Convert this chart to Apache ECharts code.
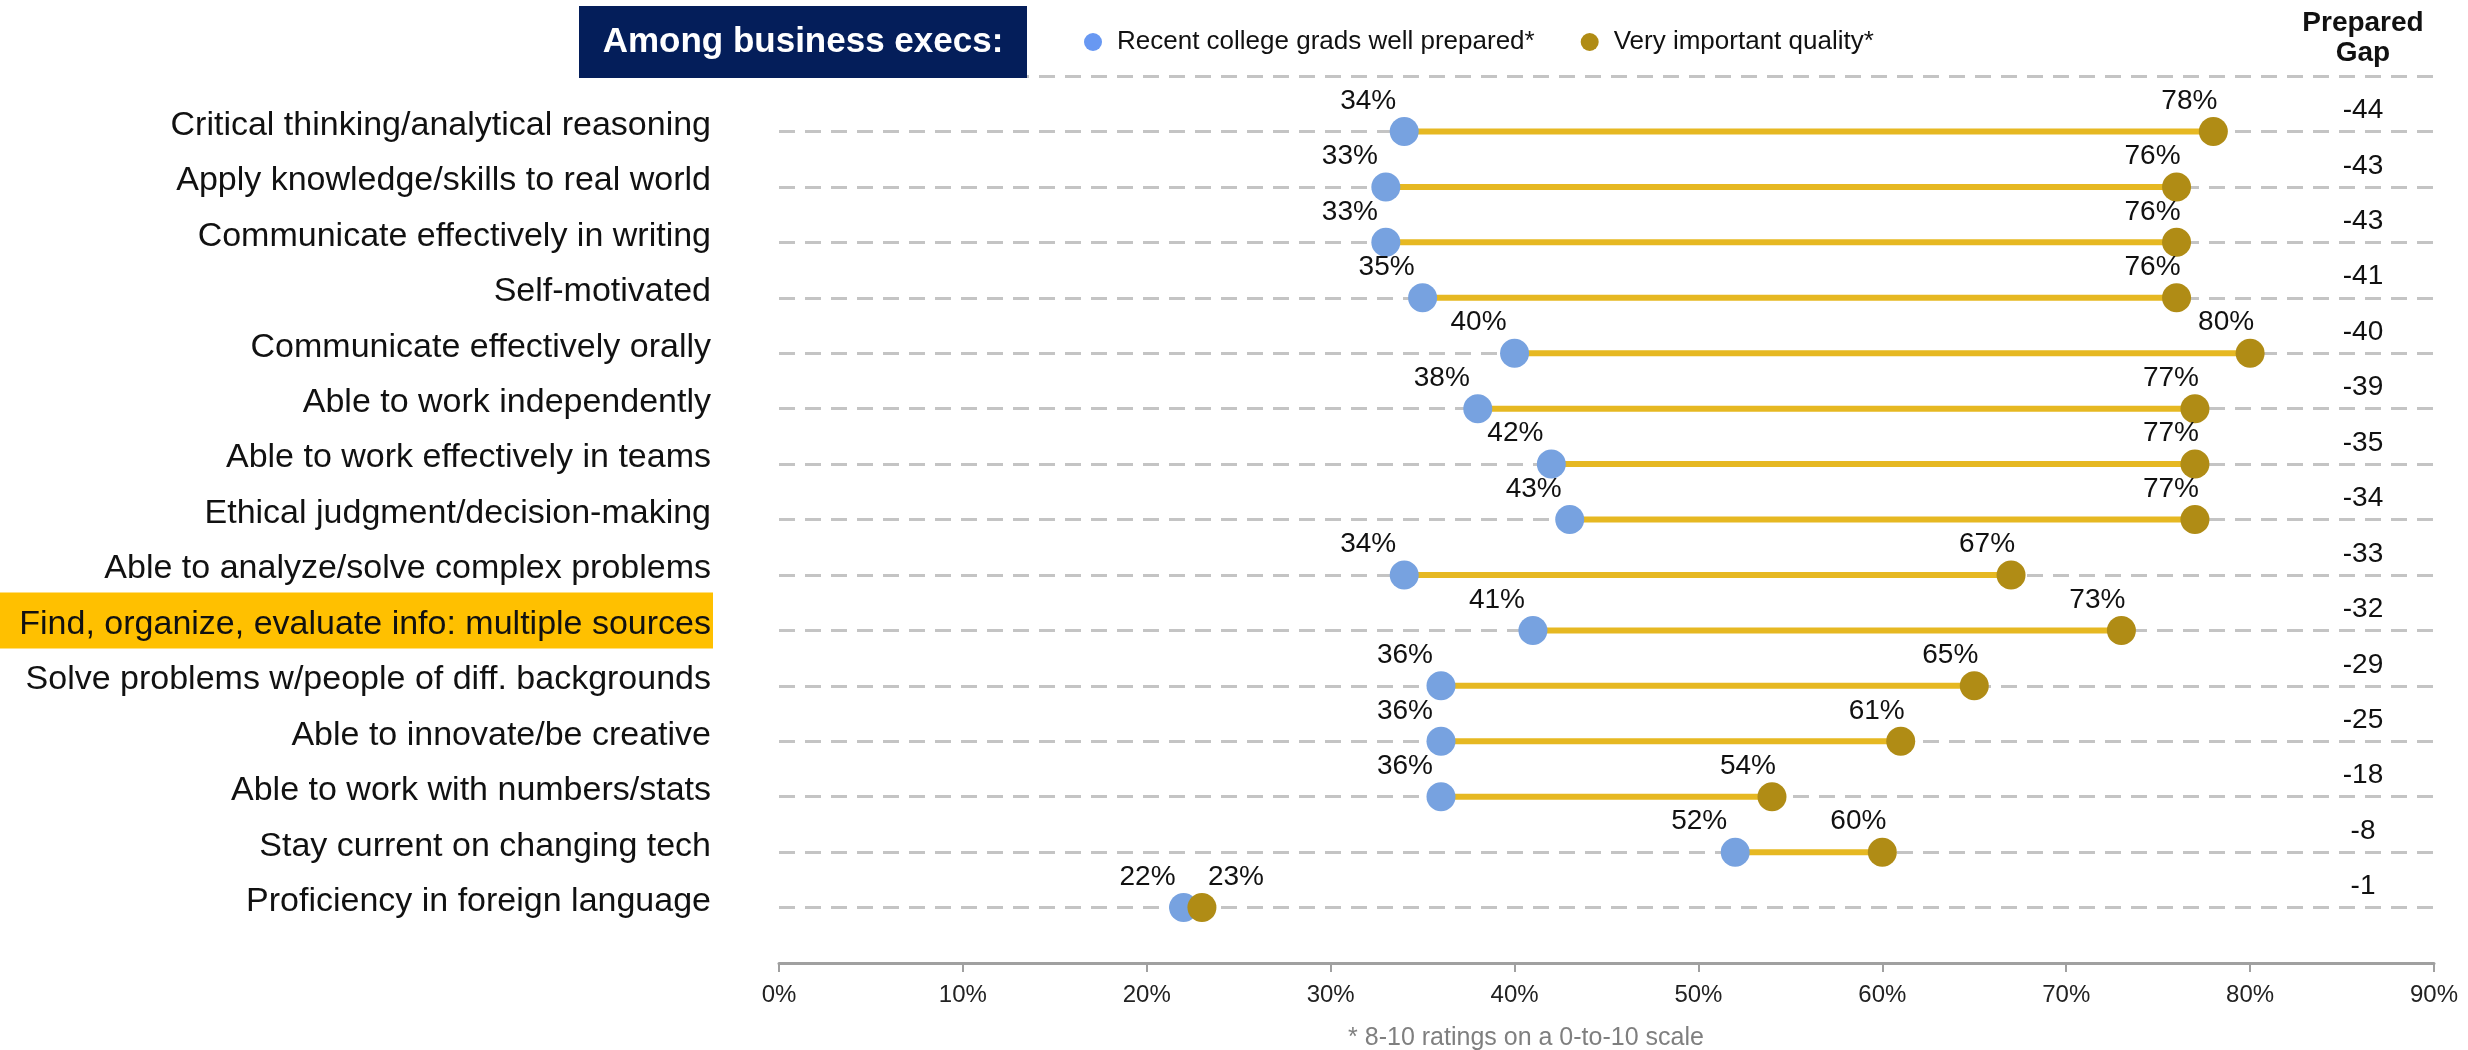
<!DOCTYPE html>
<html>
<head>
<meta charset="utf-8">
<script src="https://cdn.jsdelivr.net/npm/echarts@6/dist/echarts.min.js"></script>
<style>html,body{margin:0;padding:0;background:#fff;}#c{width:2468px;height:1050px;}</style>
</head>
<body>
<div id="c"></div>
<script>
// ---- data ----
const categories = [
  'Critical thinking/analytical reasoning',
  'Apply knowledge/skills to real world',
  'Communicate effectively in writing',
  'Self-motivated',
  'Communicate effectively orally',
  'Able to work independently',
  'Able to work effectively in teams',
  'Ethical judgment/decision-making',
  'Able to analyze/solve complex problems',
  'Find, organize, evaluate info: multiple sources',
  'Solve problems w/people of diff. backgrounds',
  'Able to innovate/be creative',
  'Able to work with numbers/stats',
  'Stay current on changing tech',
  'Proficiency in foreign language'
];
const prepared  = [34, 33, 33, 35, 40, 38, 42, 43, 34, 41, 36, 36, 36, 52, 22];
const important = [78, 76, 76, 76, 80, 77, 77, 77, 67, 73, 65, 61, 54, 60, 23];
const gaps      = [-44, -43, -43, -41, -40, -39, -35, -34, -33, -32, -29, -25, -18, -8, -1];
const xTicks = [0, 10, 20, 30, 40, 50, 60, 70, 80, 90];
const highlighted = 'Find, organize, evaluate info: multiple sources';
const seriesNames = ['Recent college grads well prepared*', 'Very important quality*'];

const FONT = '"Liberation Sans", Arial, sans-serif';
const LABEL_SIZE = 34;
const GRID_LEFT = 779, GRID_RIGHT_X = 2434, GRID_TOP = 76, GRID_BOTTOM_Y = 963;

const chart = echarts.init(document.getElementById('c'), null, {renderer: 'canvas'});

const rowOf = i => i + 1;
const bluePts = prepared.map((v, i) => [v, rowOf(i)]);
const goldPts = important.map((v, i) => [v, rowOf(i)]);
const spans = prepared.map((v, i) => [v, important[i], rowOf(i)]);

const staticGraphics = [
  {type: 'rect', shape: {x: 579, y: 6, width: 448, height: 72}, style: {fill: '#041e5a'}, z: 10},
  {type: 'text', x: 803, y: 42, z: 11,
   style: {text: 'Among business execs:', fill: '#fff', font: 'bold 35px ' + FONT, align: 'center', verticalAlign: 'middle'}},
  {type: 'text', x: 2363, y: 8, z: 11,
   style: {text: 'Prepared\nGap', fill: '#111', font: 'bold 28px ' + FONT, align: 'center', verticalAlign: 'top', lineHeight: 30}},
  {type: 'text', x: 1526, y: 1038, z: 11,
   style: {text: '* 8-10 ratings on a 0-to-10 scale', fill: '#7f7f7f', font: '25px ' + FONT, align: 'center', verticalAlign: 'middle'}}
];

const option = {
  animation: false,
  textStyle: {fontFamily: FONT},
  grid: {left: GRID_LEFT, right: 2468 - GRID_RIGHT_X, top: GRID_TOP, bottom: 1050 - GRID_BOTTOM_Y, containLabel: false},
  legend: {
    data: [
      {name: seriesNames[0], itemStyle: {color: '#6898f2'}},
      {name: seriesNames[1], itemStyle: {color: '#b08c15'}}
    ],
    left: 1079, top: 24,
    icon: 'circle', itemWidth: 18, itemHeight: 18, itemGap: 46,
    textStyle: {fontSize: 26, color: '#111', fontFamily: FONT, padding: [0, 0, 0, 10]}
  },
  xAxis: {
    type: 'value', min: 0, max: 90, interval: 10, position: 'bottom', z: 2,
    axisLine: {show: true, onZero: false, lineStyle: {color: '#a0a0a0', width: 3}},
    axisTick: {show: true, length: 9, lineStyle: {color: '#a0a0a0', width: 2}},
    axisLabel: {fontSize: 24, color: '#222', margin: 20,
      formatter: v => xTicks.indexOf(v) >= 0 ? v + '%' : ''},
    splitLine: {show: false}
  },
  yAxis: [{
    type: 'value', inverse: true, min: 0, max: 15.999, interval: 1, z: 1,
    axisLine: {show: false}, axisTick: {show: false},
    splitLine: {show: true, lineStyle: {color: '#c4c4c4', width: 3, type: [16, 10]}},
    axisLabel: {
      margin: 68, fontSize: LABEL_SIZE, color: '#111', align: 'right',
      formatter: v => {
        const name = categories[v - 1];
        return name ? '{n|' + name + '}' : '';
      },
      rich: {
        n: {fontSize: LABEL_SIZE, color: '#111', padding: [0, 0, 12, 0], fontFamily: FONT}
      }
    }
  }, {
    type: 'value', inverse: true, min: 0, max: 15.999, interval: 1, position: 'right', z: 1,
    axisLine: {show: false}, axisTick: {show: false}, splitLine: {show: false},
    axisLabel: {
      inside: true, margin: 71, align: 'center', fontSize: 28, color: '#111',
      formatter: v => (gaps[v - 1] !== undefined ? '{g|' + gaps[v - 1] + '}' : ''),
      rich: {g: {fontSize: 28, color: '#111', padding: [0, 0, 42, 0], fontFamily: FONT}}
    }
  }],
  graphic: staticGraphics,
  series: [
    {
      type: 'custom', name: 'span', silent: true, z: 2,
      data: spans,
      encode: {x: [0, 1], y: 2},
      renderItem: (params, api) => {
        const p1 = api.coord([api.value(0), api.value(2)]);
        const p2 = api.coord([api.value(1), api.value(2)]);
        return {type: 'line', shape: {x1: p1[0], y1: p1[1], x2: p2[0], y2: p2[1]},
                style: {stroke: '#e6b822', lineWidth: 6}};
      }
    },
    {
      type: 'scatter', name: seriesNames[0], z: 3,
      data: bluePts, symbolSize: 29,
      itemStyle: {color: '#77a2e0', opacity: 1},
      label: {show: true, position: 'top', distance: 2, offset: [-36, 0], fontSize: 28, color: '#111',
              formatter: p => p.value[0] + '%'}
    },
    {
      type: 'scatter', name: seriesNames[1], z: 4,
      data: goldPts.map((pt, i) => ({
        value: pt,
        label: Math.abs(gaps[i]) < 5 ? {offset: [34, 0]} : undefined
      })),
      symbolSize: 29,
      itemStyle: {color: '#b08c15', opacity: 1},
      label: {show: true, position: 'top', distance: 2, offset: [-24, 0], fontSize: 28, color: '#111',
              formatter: p => p.value[0] + '%'}
    }
  ]
};
chart.setOption(option);

// highlight band behind the highlighted category label, positioned via the y scale
const hlRow = rowOf(categories.indexOf(highlighted));
const yLine = chart.convertToPixel({yAxisIndex: 0}, hlRow);
chart.setOption({
  graphic: staticGraphics.concat([
    {type: 'rect', z: 0, shape: {x: 0, y: yLine - 38, width: 713, height: 56}, style: {fill: '#ffc000'}}
  ])
});
</script>
</body>
</html>
